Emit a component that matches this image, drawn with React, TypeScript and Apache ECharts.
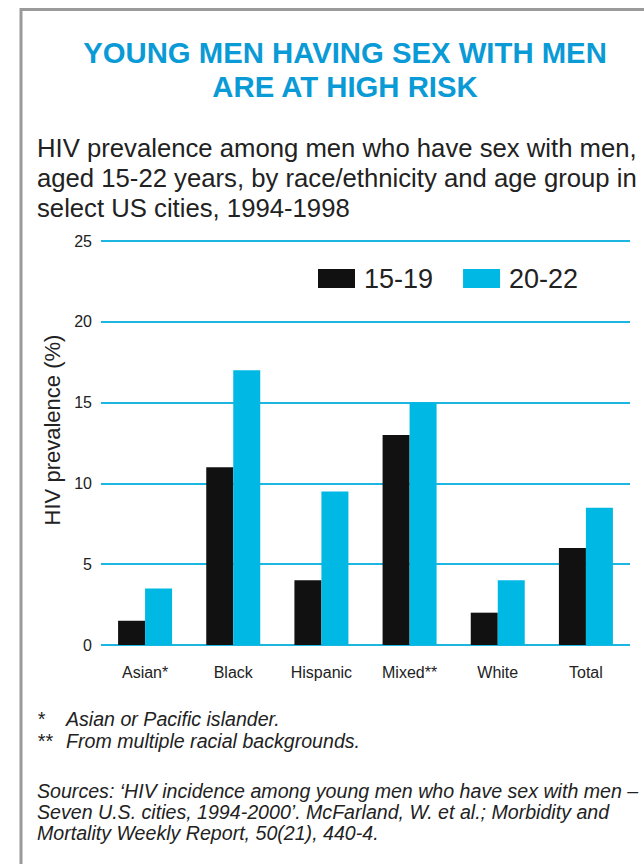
import React, { useEffect, useRef } from "react";
import * as echarts from "echarts";

const categories = ["Asian*", "Black", "Hispanic", "Mixed**", "White", "Total"];
const seriesNames = ["15-19", "20-22"];
const values1519 = [1.5, 11, 4, 13, 2, 6];
const values2022 = [3.5, 17, 9.5, 15, 4, 8.5];
const titleLines = ["YOUNG MEN HAVING SEX WITH MEN", "ARE AT HIGH RISK"];
const subtitleLines = [
  "HIV prevalence among men who have sex with men,",
  "aged 15-22 years, by race/ethnicity and age group in",
  "select US cities, 1994-1998",
];
const yAxisTitle = "HIV prevalence (%)";
const footnotes = [
  ["*", "Asian or Pacific islander."],
  ["**", "From multiple racial backgrounds."],
];
const sourceLines = [
  "Sources: \u2018HIV incidence among young men who have sex with men \u2013",
  "Seven U.S. cities, 1994-2000\u2019. McFarland, W. et al.; Morbidity and",
  "Mortality Weekly Report, 50(21), 440-4.",
];

const SANS = "'Liberation Sans', Arial, Helvetica, sans-serif";
const CYAN = "#00b8e4";
const GRID = "#1cb6e0";
const BLUE = "#0a9ad6";

export default function App() {
  const ref = useRef<HTMLDivElement>(null);
  useEffect(() => {
    if (!ref.current) return;
    const chart = echarts.init(ref.current, null, { renderer: "svg" });
    const graphics: any[] = [];
    graphics.push({
      type: "polyline",
      shape: { points: [[21, 870], [21, 9.5], [650, 9.5]] },
      style: { stroke: "#9a9a9a", lineWidth: 3, fill: null },
    });
    titleLines.forEach((t, i) => {
      graphics.push({
        type: "text",
        x: 345,
        y: 52 + i * 34,
        style: {
          text: t,
          font: `bold 29.3px ${SANS}`,
          fill: BLUE,
          textAlign: "center",
          textVerticalAlign: "middle",
        },
      });
    });
    subtitleLines.forEach((t, i) => {
      graphics.push({
        type: "text",
        x: 37,
        y: 148 + i * 30,
        style: {
          text: t,
          font: `25.7px ${SANS}`,
          fill: "#222",
          textAlign: "left",
          textVerticalAlign: "middle",
        },
      });
    });
    graphics.push({
      type: "text",
      x: 52,
      y: 430,
      rotation: Math.PI / 2,
      style: {
        text: yAxisTitle,
        font: `22px ${SANS}`,
        fill: "#222",
        textAlign: "center",
        textVerticalAlign: "middle",
      },
    });
    footnotes.forEach((f, i) => {
      graphics.push({
        type: "text",
        x: 37,
        y: 719 + i * 22,
        style: { text: f[0], font: `italic 19.6px ${SANS}`, fill: "#222", textVerticalAlign: "middle" },
      });
      graphics.push({
        type: "text",
        x: 66,
        y: 719 + i * 22,
        style: { text: f[1], font: `italic 19.6px ${SANS}`, fill: "#222", textVerticalAlign: "middle" },
      });
    });
    sourceLines.forEach((t, i) => {
      graphics.push({
        type: "text",
        x: 37,
        y: 791 + i * 21,
        style: { text: t, font: `italic 19.6px ${SANS}`, fill: "#222", textVerticalAlign: "middle" },
      });
    });

    chart.setOption({
      animation: false,
      backgroundColor: "#ffffff",
      grid: { left: 101, right: 14, top: 241, bottom: 219, containLabel: false },
      legend: {
        data: seriesNames,
        left: 313,
        top: 260,
        itemWidth: 37,
        itemHeight: 19,
        itemGap: 30,
        icon: "rect",
        textStyle: { fontSize: 27, color: "#222", fontFamily: SANS, padding: [0, 0, 0, 4] },
      },
      xAxis: {
        type: "category",
        data: categories,
        axisLine: { show: false },
        axisTick: { show: false },
        axisLabel: { color: "#222", fontSize: 16, fontFamily: SANS, margin: 19 },
      },
      yAxis: {
        type: "value",
        min: 0,
        max: 25,
        interval: 5,
        axisLine: { show: false },
        axisTick: { show: false },
        axisLabel: { color: "#222", fontSize: 16, fontFamily: SANS, margin: 9 },
        splitLine: { lineStyle: { color: GRID, width: 2 } },
      },
      series: [
        { name: seriesNames[0], type: "bar", data: values1519, barWidth: 27, barGap: "0%", itemStyle: { color: "#111111" } },
        { name: seriesNames[1], type: "bar", data: values2022, barWidth: 27, barGap: "0%", itemStyle: { color: CYAN } },
      ],
      graphic: graphics,
    });
    return () => chart.dispose();
  }, []);
  return (
    <div
      ref={ref}
      style={{ position: "fixed", left: 0, top: 0, width: 644, height: 864, background: "#fff" }}
    />
  );
}
